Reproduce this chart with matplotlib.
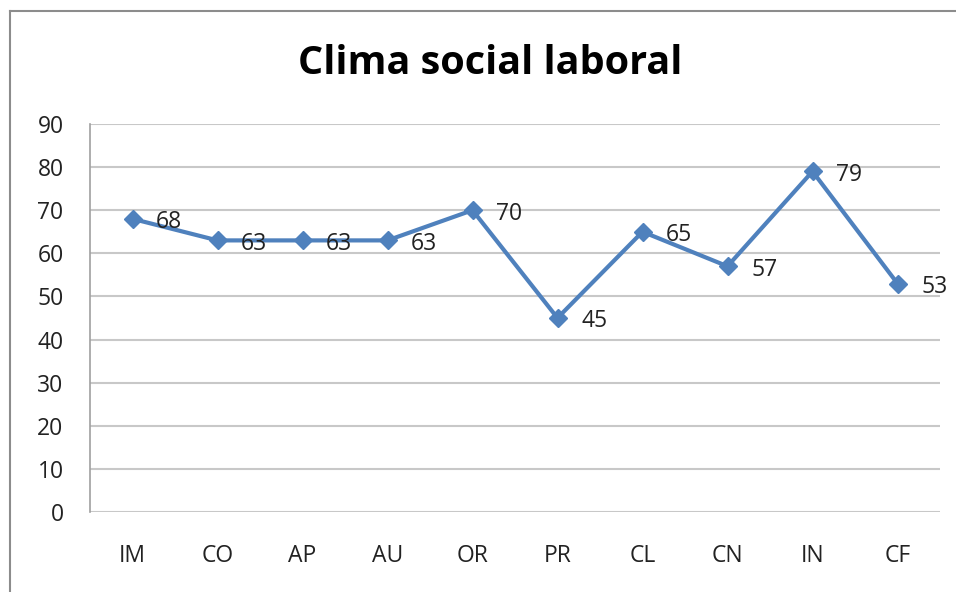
import matplotlib.pyplot as plt
from matplotlib.lines import Line2D

categories = ['IM', 'CO', 'AP', 'AU', 'OR', 'PR', 'CL', 'CN', 'IN', 'CF']
values = [68, 63, 63, 63, 70, 45, 65, 57, 79, 53]
yticks = [0, 10, 20, 30, 40, 50, 60, 70, 80, 90]

plt.rcParams['font.family'] = ['Open Sans', 'DejaVu Sans']

fig = plt.figure(figsize=(9.56, 5.92), dpi=100)
W, H = 956, 592
ax = fig.add_axes([90 / W, 1 - 512 / H, 850 / W, 388 / H])

# outer chart frame (only left and top edges fall inside the picture)
fig.add_artist(Line2D([10 / W, 10 / W], [0, 1 - 11 / H], transform=fig.transFigure,
                      color='#8c8c8c', lw=1.5))
fig.add_artist(Line2D([10 / W, 1], [1 - 11 / H, 1 - 11 / H], transform=fig.transFigure,
                      color='#8c8c8c', lw=1.5))

x = range(len(categories))
ax.plot(x, values, color='#4F81BD', lw=3, marker='D', markersize=9.5,
        markeredgecolor='#4F81BD', zorder=3)
for xi, v in zip(x, values):
    ax.annotate(str(v), (xi, v), xytext=(17, -2.5), textcoords='offset points',
                ha='left', va='center', fontsize=16.5, color='#222222')

ax.set_xlim(-0.5, len(categories) - 0.5)
ax.set_ylim(0, 90)
ax.set_yticks(yticks)
ax.set_xticks(list(x))
ax.set_xticklabels(categories)
ax.yaxis.grid(True, color='#c8c8c8', lw=1.5)
ax.set_axisbelow(True)
ax.tick_params(length=0, labelsize=16.5, colors='#222222')
ax.tick_params(axis='x', pad=23)
ax.tick_params(axis='y', pad=19)
for s in ['top', 'right', 'bottom']:
    ax.spines[s].set_visible(False)
ax.spines['left'].set_color('#a0a0a0')
ax.spines['left'].set_linewidth(1.2)

fig.text(490 / W, 1 - 63 / H, 'Clima social laboral', ha='center', va='center',
         fontsize=28.5, fontweight='bold', color='#000000')

fig.savefig('out.png', dpi=100)
